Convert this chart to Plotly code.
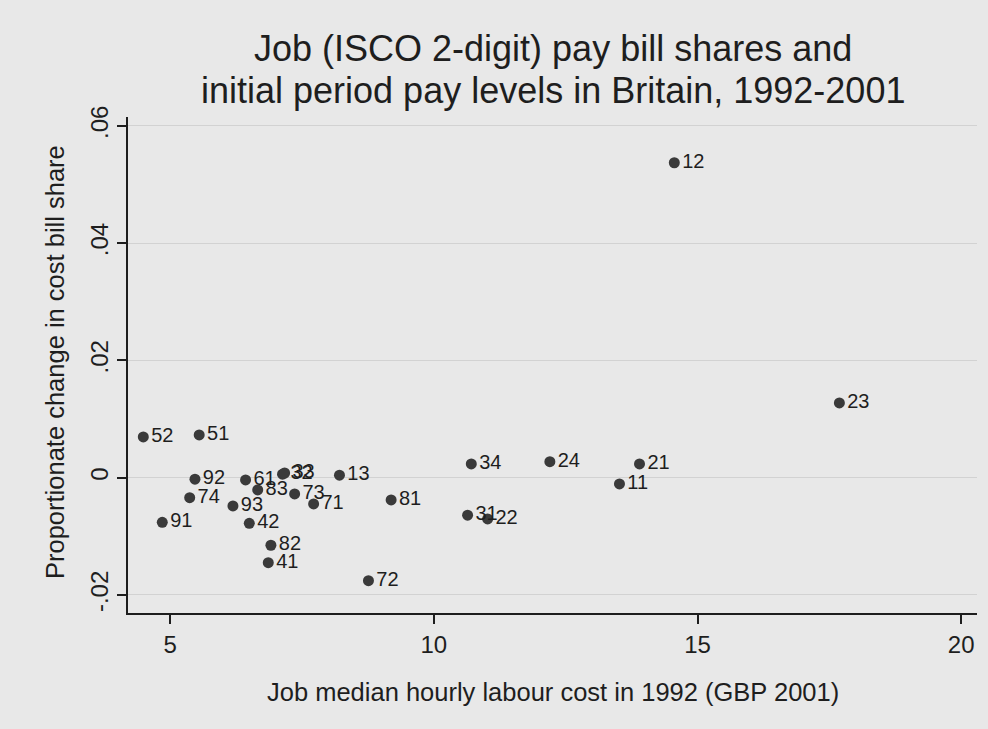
import plotly.graph_objects as go

# ISCO 2-digit job codes
codes = ["12", "23", "52", "51", "92", "61", "32", "33", "13", "83",
         "73", "71", "74", "93", "91", "42", "82", "41", "72", "81",
         "34", "31", "22", "24", "21", "11"]

# Median hourly labour cost in 1992 (GBP 2001)
pay_1992 = [14.56, 17.69, 4.49, 5.55, 5.47, 6.43, 7.13, 7.17, 8.21, 6.66,
            7.36, 7.72, 5.37, 6.19, 4.85, 6.50, 6.91, 6.86, 8.76, 9.19,
            10.71, 10.64, 11.02, 12.20, 13.90, 13.52]

# Proportionate change in cost bill share, 1992-2001
share_change = [0.0537, 0.01275, 0.00695, 0.0073, -0.00026, -0.00038, 0.0006, 0.0008,
                0.00042, -0.00209, -0.00277, -0.00448, -0.0034, -0.00482, -0.0076,
                -0.00777, -0.01152, -0.01449, -0.01756, -0.0038, 0.00235, -0.0064,
                -0.00704, 0.00274, 0.00235, -0.00107]

x_ticks = [5, 10, 15, 20]
y_ticks = [-0.02, 0, 0.02, 0.04, 0.06]
y_tick_text = ["-.02", "0", ".02", ".04", ".06"]

title_lines = ["Job (ISCO 2-digit) pay bill shares and",
               "initial period pay levels in Britain, 1992-2001"]

FONT = "Liberation Sans, Arial, sans-serif"
BG = "#e8e8e8"
INK = "#1e1e1e"

# plot area in pixels: left 128, right 977, top 117, bottom 613
L, R, T, B = 128, 977, 117, 613


def paper_y(px):
    return (B - px) / (B - T)


def paper_x(px):
    return (px - L) / (R - L)


fig = go.Figure(
    go.Scatter(
        x=pay_1992,
        y=share_change,
        mode="markers+text",
        text=codes,
        textposition="middle right",
        textfont=dict(family=FONT, size=20, color=INK),
        marker=dict(size=11, color="#3a3a3a"),
        hoverinfo="skip",
    )
)

annotations = [
    dict(
        text=line,
        x=0.5, xref="paper", xanchor="center",
        y=paper_y(py), yref="paper", yanchor="middle",
        showarrow=False,
        font=dict(family=FONT, size=36, color=INK),
    )
    for line, py in zip(title_lines, [49, 91])
]
annotations += [
    dict(
        text="Job median hourly labour cost in 1992 (GBP 2001)",
        x=0.5, xref="paper", xanchor="center",
        y=paper_y(692), yref="paper", yanchor="middle",
        showarrow=False,
        font=dict(family=FONT, size=25.5, color=INK),
    ),
    dict(
        text="Proportionate change in cost bill share",
        x=paper_x(55), xref="paper", xanchor="center",
        y=paper_y(362), yref="paper", yanchor="middle",
        textangle=-90,
        showarrow=False,
        font=dict(family=FONT, size=25.5, color=INK),
    ),
]

fig.update_layout(
    width=988,
    height=729,
    margin=dict(l=L, r=988 - R, t=T, b=729 - B),
    paper_bgcolor=BG,
    plot_bgcolor=BG,
    showlegend=False,
    font=dict(family=FONT, color=INK),
    xaxis=dict(
        range=[4.2, 20.3],
        tickvals=x_ticks,
        ticktext=[str(v) for v in x_ticks],
        showgrid=False,
        zeroline=False,
        showline=True,
        linecolor=INK,
        linewidth=1.5,
        ticks="outside",
        ticklen=9,
        tickwidth=1.5,
        tickcolor=INK,
        tickfont=dict(family=FONT, size=24, color=INK),
    ),
    yaxis=dict(
        range=[-0.02307, 0.0615],
        tickvals=y_ticks,
        ticktext=y_tick_text,
        tickangle=-90,
        showgrid=True,
        gridcolor="#d2d2d2",
        gridwidth=1,
        zeroline=False,
        showline=True,
        linecolor=INK,
        linewidth=1.5,
        ticks="outside",
        ticklen=9,
        tickwidth=1.5,
        tickcolor=INK,
        tickfont=dict(family=FONT, size=24, color=INK),
    ),
    annotations=annotations,
)

fig.write_html("out.html")
